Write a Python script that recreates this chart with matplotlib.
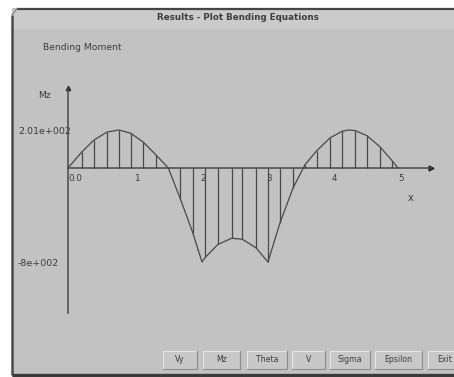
import numpy as np
import matplotlib
matplotlib.use("Agg")
import matplotlib.pyplot as plt
from matplotlib.patches import Rectangle

# bending moment samples (x along beam, M value); vertical hatch drawn at each sample
sample_x = [0.00, 0.21, 0.39, 0.59, 0.77, 0.95, 1.14, 1.33, 1.52, 1.70, 1.89,
            2.08, 2.27, 2.48, 2.64, 2.85, 3.03, 3.21, 3.41, 3.59, 3.77, 3.97,
            4.15, 4.35, 4.53, 4.73, 4.91, 5.00]
sample_m = [0, 85, 147, 190, 201, 184, 137, 70, 0, -260, -550,
            -761, -651, -598, -606, -680, -800, -470, -170, 17, 92, 159,
            194, 198, 171, 111, 39, 0]
# extra curve vertices between samples (extremes)
turn_x = [2.03, 4.25]
turn_m = [-800, 201]

x_ticks = [0, 1, 2, 3, 4, 5]
x_tick_labels = ["0.0", "1", "2", "3", "4", "5"]
y_ticks = [201, -800]
y_tick_labels = ["2.01e+002", "-8e+002"]

buttons = ["Vy", "Mz", "Theta", "V", "Sigma", "Epsilon", "Exit"]
button_spans = [(163, 197), (203, 240), (247, 287), (292, 325),
                (330, 370), (375, 422), (428, 462)]

W, H = 454, 377
ink = "#484848"
txt = "#3c3c3c"

fig = plt.figure(figsize=(W / 100, H / 100), dpi=100)
fig.patch.set_facecolor("white")

# window chrome, drawn in pixel coordinates
bg = fig.add_axes([0, 0, 1, 1])
bg.set_xlim(0, W)
bg.set_ylim(H, 0)
bg.axis("off")
bg.add_patch(Rectangle((12, 8), W - 12, H - 8, facecolor="#c2c2c2", edgecolor="none"))
bg.add_patch(Rectangle((13, 10), W - 13, 19, facecolor="#cbcbcb", edgecolor="none"))
bg.plot([17, W], [8.5, 8.5], color="#454545", lw=1.6, solid_capstyle="butt")
bg.plot([12.2, 12.2], [15, 375], color="#4a4a4a", lw=1.8, solid_capstyle="butt")
bg.plot([12, 17], [15, 8.5], color="#8a8a8a", lw=1.0)
bg.plot([12, W], [375, 375], color="#3a3a3a", lw=2.4, solid_capstyle="butt")

bg.text(238, 17, "Results - Plot Bending Equations", ha="center", va="center",
        fontsize=6.3, fontweight="bold", color=txt)
bg.text(43, 47, "Bending Moment", ha="left", va="center", fontsize=6.6, color=txt)
bg.text(44, 96, "Mz", ha="center", va="center", fontsize=6.6, color=txt)
bg.text(411, 198, "x", ha="center", va="center", fontsize=7, color=txt)

for label, (x0, x1) in zip(buttons, button_spans):
    bg.add_patch(Rectangle((x0, 351), x1 - x0, 18, facecolor="#c8c8c8", edgecolor="none"))
    bg.plot([x0, x0, x1], [369, 351, 351], color="#e6e6e6", lw=0.8)
    bg.plot([x0, x1, x1], [369, 369, 351], color="#8c8c8c", lw=0.8)
    bg.text((x0 + x1) / 2, 360, label, ha="center", va="center", fontsize=5.6, color=txt)

# plot area: positive and negative parts are scaled separately (as in the original app)
pos_k = 38 / 201
neg_k = 94 / 800


def fwd(v):
    v = np.asarray(v, dtype=float)
    return np.where(v >= 0, v * pos_k, v * neg_k)


def inv(v):
    v = np.asarray(v, dtype=float)
    return np.where(v >= 0, v / pos_k, v / neg_k)


left, right, top, bottom = 68, 431, 88, 313
ax = fig.add_axes([left / W, 1 - bottom / H, (right - left) / W, (bottom - top) / H])
ax.set_yscale("function", functions=(fwd, inv))
ax.set_xlim(0, (right - left) / 66)
ax.set_ylim(-(bottom - 168) / neg_k, (168 - top) / pos_k)
ax.patch.set_alpha(0)

for s in ["top", "right"]:
    ax.spines[s].set_visible(False)
ax.spines["bottom"].set_position(("data", 0))
ax.spines["left"].set_position(("data", 0))
for s in ["bottom", "left"]:
    ax.spines[s].set_color(ink)
    ax.spines[s].set_linewidth(1.1)

ax.plot(1, 0, ">", color="#222222", ms=3.5, transform=ax.get_yaxis_transform(), clip_on=False)
ax.plot(0, 1, "^", color="#222222", ms=3.0, transform=ax.get_xaxis_transform(), clip_on=False)

curve = sorted(zip(sample_x + turn_x, sample_m + turn_m))
cx = [p[0] for p in curve]
cm = [p[1] for p in curve]
ax.plot(cx, cm, color=ink, lw=0.9)
ax.vlines(sample_x, 0, sample_m, color=ink, lw=0.9)

ax.set_xticks(x_ticks)
ax.set_xticklabels(x_tick_labels)
ax.set_yticks(y_ticks)
ax.set_yticklabels(y_tick_labels)
ax.tick_params(axis="x", length=0, pad=4, labelsize=6.3, labelcolor=txt)
ax.tick_params(axis="y", length=0, pad=36, labelsize=6.8, labelcolor=txt)
for lbl in ax.get_xticklabels():
    lbl.set_horizontalalignment("left")
for lbl in ax.get_yticklabels():
    lbl.set_horizontalalignment("left")
    if lbl.get_text().startswith("-"):
        lbl.set_verticalalignment("center_baseline")
ax.minorticks_off()

fig.savefig("out.png", dpi=100)
